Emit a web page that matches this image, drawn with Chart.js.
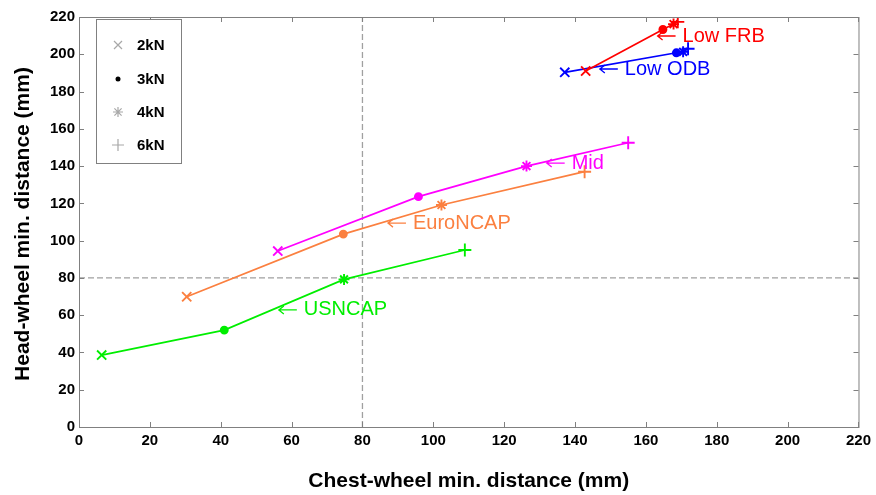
<!DOCTYPE html>
<html>
<head>
<meta charset="utf-8">
<script src="https://cdn.jsdelivr.net/npm/chart.js@4/dist/chart.umd.min.js"></script>
<style>
  html, body { margin: 0; padding: 0; background: #fff; }
  #wrap { width: 876px; height: 495px; }
</style>
</head>
<body>
<div id="wrap"><canvas id="chart" width="876" height="495"></canvas></div>
<script>
// Impactor force levels (one marker per level)
const forceLabels = ['2kN', '3kN', '4kN', '6kN'];
const markerStyles = ['crossRot', 'circle', 'star', 'cross'];
const markerSizes = [6.5, 3.5, 5.5, 6.5];

// Chest-wheel (x) and head-wheel (y) minimum distances, mm
const usncapX = [6.4, 41.0, 74.8, 108.9];
const usncapY = [38.6, 52.0, 79.2, 95.0];
const euroX = [30.4, 74.6, 102.3, 142.7];
const euroY = [69.9, 103.5, 119.1, 137.0];
const midX = [56.1, 95.8, 126.3, 155.0];
const midY = [94.4, 123.6, 140.0, 152.5];
const frbX = [143.0, 164.8, 167.8, 169.0];
const frbY = [191.0, 213.3, 216.2, 217.4];
const odbX = [137.1, 168.6, 170.5, 171.9];
const odbY = [190.3, 200.8, 201.3, 203.0];

// Threshold lines
const limitX = 80;
const limitY = 80;

// Axis ticks
const axisTicks = [0, 20, 40, 60, 80, 100, 120, 140, 160, 180, 200, 220];

// Arrow labels: text and where the arrow points
const tagText = ['Low FRB', 'Low ODB', 'Mid', 'EuroNCAP', 'USNCAP'];
const tagX = [163.3, 147.0, 132.0, 87.2, 56.4];
const tagY = [209.8, 192.1, 141.6, 109.4, 62.8];
const tagColors = ['#ff0000', '#0000ff', '#ff00ff', '#fb8040', '#00ee00'];

const FONT = '"Liberation Sans", Arial, sans-serif';

function toPoints(xs, ys) {
    return xs.map((v, i) => ({ x: v, y: ys[i] }));
}

function series(label, xs, ys, color) {
    return {
        label: label,
        data: toPoints(xs, ys),
        showLine: true,
        borderColor: color,
        backgroundColor: color,
        borderWidth: 1.7,
        pointStyle: markerStyles,
        pointRadius: markerSizes,
        pointBorderWidth: 1.9,
        pointBorderColor: color,
        pointBackgroundColor: color
    };
}

function refLine(data) {
    return {
        label: 'ref',
        data: data,
        showLine: true,
        borderColor: '#a0a0a0',
        borderWidth: 1.3,
        borderDash: [6, 3],
        pointRadius: 0
    };
}

// Box, inward ticks, arrow labels, legend and axis titles
const decorPlugin = {
    id: 'decor',
    afterDraw(chart) {
        const { ctx, chartArea: a, scales } = chart;
        const sx = scales.x, sy = scales.y;
        ctx.save();

        ctx.strokeStyle = '#808080';
        ctx.lineWidth = 1;
        ctx.strokeRect(a.left + 0.5, a.top + 0.5, a.width, a.height);

        const tl = 5;
        ctx.beginPath();
        sx.ticks.forEach(t => {
            const px = Math.round(sx.getPixelForValue(t.value)) + 0.5;
            ctx.moveTo(px, a.bottom); ctx.lineTo(px, a.bottom - tl);
            ctx.moveTo(px, a.top); ctx.lineTo(px, a.top + tl);
        });
        sy.ticks.forEach(t => {
            const py = Math.round(sy.getPixelForValue(t.value)) + 0.5;
            ctx.moveTo(a.left, py); ctx.lineTo(a.left + tl, py);
            ctx.moveTo(a.right, py); ctx.lineTo(a.right - tl, py);
        });
        ctx.stroke();

        // arrow labels
        ctx.font = '20px ' + FONT;
        ctx.textBaseline = 'middle';
        ctx.textAlign = 'left';
        tagText.forEach((txt, i) => {
            const px = sx.getPixelForValue(tagX[i]);
            const py = sy.getPixelForValue(tagY[i]);
            ctx.strokeStyle = tagColors[i];
            ctx.fillStyle = tagColors[i];
            ctx.lineWidth = 1.3;
            ctx.beginPath();
            ctx.moveTo(px + 18, py); ctx.lineTo(px, py);
            ctx.moveTo(px + 5, py - 4); ctx.lineTo(px, py); ctx.lineTo(px + 5, py + 4);
            ctx.stroke();
            ctx.fillText(txt, px + 25, py);
        });

        // legend
        const lx = 96, ly = 19, lw = 85, lh = 144;
        ctx.fillStyle = '#fff';
        ctx.fillRect(lx, ly, lw, lh);
        ctx.strokeStyle = '#808080';
        ctx.lineWidth = 1;
        ctx.strokeRect(lx + 0.5, ly + 0.5, lw, lh);
        const rows = [45, 79, 112, 145];
        ctx.font = 'bold 15px ' + FONT;
        forceLabels.forEach((lab, i) => {
            const cx = 118, cy = rows[i];
            ctx.strokeStyle = '#a8a8a8';
            ctx.fillStyle = '#000';
            ctx.lineWidth = 1.2;
            ctx.beginPath();
            const st = markerStyles[i];
            if (st === 'crossRot' || st === 'star') {
                const d = st === 'star' ? 3.6 : 4;
                ctx.moveTo(cx - d, cy - d); ctx.lineTo(cx + d, cy + d);
                ctx.moveTo(cx - d, cy + d); ctx.lineTo(cx + d, cy - d);
            }
            if (st === 'cross' || st === 'star') {
                const d = st === 'star' ? 5 : 6;
                ctx.moveTo(cx - d, cy); ctx.lineTo(cx + d, cy);
                ctx.moveTo(cx, cy - d); ctx.lineTo(cx, cy + d);
            }
            ctx.stroke();
            if (st === 'circle') {
                ctx.beginPath();
                ctx.arc(cx, cy, 2.5, 0, Math.PI * 2);
                ctx.fill();
            }
            ctx.fillStyle = '#000';
            ctx.fillText(lab, 137, cy + 1);
        });

        // axis titles
        ctx.fillStyle = '#000';
        ctx.font = 'bold 21px ' + FONT;
        ctx.textAlign = 'center';
        ctx.fillText('Chest-wheel min. distance (mm)', (a.left + a.right) / 2, 481);
        ctx.translate(23, (a.top + a.bottom) / 2 + 2);
        ctx.rotate(-Math.PI / 2);
        ctx.fillText('Head-wheel min. distance (mm)', 0, 0);
        ctx.restore();
    }
};

const tickFont = { family: FONT, size: 15, weight: 'bold' };

new Chart(document.getElementById('chart'), {
    type: 'scatter',
    data: {
        datasets: [
            series('USNCAP', usncapX, usncapY, '#00ee00'),
            series('EuroNCAP', euroX, euroY, '#fb8040'),
            series('Mid', midX, midY, '#ff00ff'),
            series('Low FRB', frbX, frbY, '#ff0000'),
            series('Low ODB', odbX, odbY, '#0000ff'),
            refLine([{ x: limitX, y: 0 }, { x: limitX, y: 220 }]),
            refLine([{ x: 0, y: limitY }, { x: 220, y: limitY }])
        ]
    },
    options: {
        responsive: false,
        animation: false,
        layout: { padding: { left: 0, top: 17, right: 17, bottom: 0 } },
        plugins: { legend: { display: false }, tooltip: { enabled: false } },
        scales: {
            x: {
                type: 'linear', min: 0, max: 220,
                afterFit: s => { s.height = 68; },
                afterBuildTicks: s => { s.ticks = axisTicks.map(v => ({ value: v })); },
                grid: { display: false, drawTicks: false },
                border: { display: false },
                ticks: { color: '#000', font: tickFont, padding: 5, maxRotation: 0 }
            },
            y: {
                type: 'linear', min: 0, max: 220,
                afterFit: s => { s.width = 79; },
                afterBuildTicks: s => { s.ticks = axisTicks.map(v => ({ value: v })); },
                grid: { display: false, drawTicks: false },
                border: { display: false },
                ticks: { color: '#000', font: tickFont, padding: 4 }
            }
        }
    },
    plugins: [decorPlugin]
});
</script>
</body>
</html>
